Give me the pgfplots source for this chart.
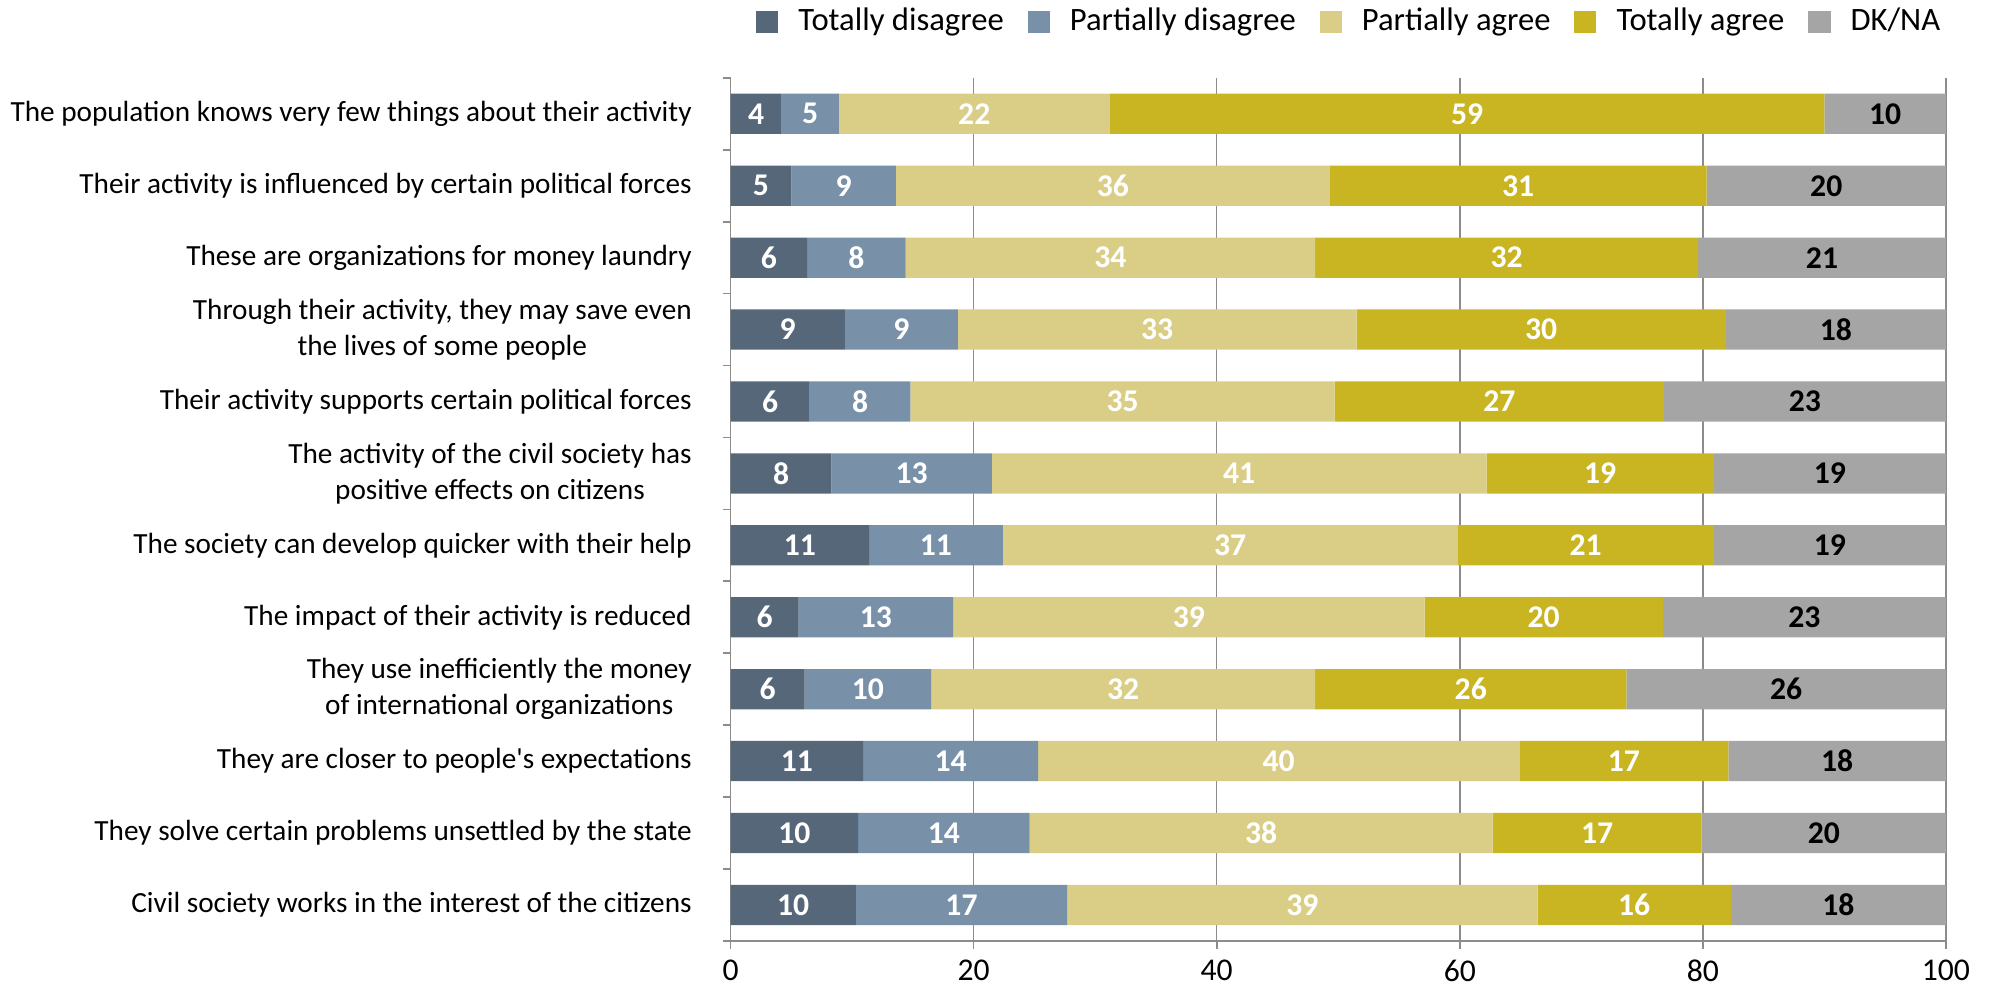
\documentclass[border=0pt]{standalone}
\usepackage{pgfplots}
\usepackage{pgfplotstable}
\pgfplotsset{compat=1.18}
\usepackage{fontspec}
\setmainfont{Carlito}
\definecolor{cTD}{HTML}{566779}
\definecolor{cPD}{HTML}{7891A8}
\definecolor{cPA}{HTML}{DACE87}
\definecolor{cTA}{HTML}{C9B521}
\definecolor{cDK}{HTML}{A5A5A5}
\definecolor{axgray}{HTML}{8C8C8C}
\pgfplotstableread{
idx td pd pa ta dk ltd lpd lpa lta ldk
0 4.2 4.7 22.3 58.8 10.0 4 5 22 59 10
1 5.0 8.6 35.7 31.0 19.7 5 9 36 31 20
2 6.3 8.1 33.7 31.5 20.4 6 8 34 32 21
3 9.4 9.3 32.8 30.4 18.1 9 9 33 30 18
4 6.5 8.3 34.9 27.1 23.2 6 8 35 27 23
5 8.3 13.2 40.7 18.7 19.1 8 13 41 19 19
6 11.4 11.0 37.4 21.1 19.1 11 11 37 21 19
7 5.6 12.7 38.8 19.6 23.3 6 13 39 20 23
8 6.1 10.4 31.6 25.6 26.3 6 10 32 26 26
9 10.9 14.4 39.6 17.2 17.9 11 14 40 17 18
10 10.5 14.1 38.1 17.2 20.1 10 14 38 17 20
11 10.3 17.4 38.7 15.9 17.7 10 17 39 16 18
}\data
\begin{document}
\fontsize{15.8}{19}\selectfont
\begin{tikzpicture}
\begin{axis}[
  xbar stacked,
  scale only axis,
  width=607pt, height=431pt,
  xmin=0, xmax=100, ymin=-0.5, ymax=11.5,
  y dir=reverse,
  bar width=0.56,
  axis x line*=bottom, axis y line*=left,
  axis line style={draw=axgray, line width=0.8pt},
  xtick={0,20,...,100},
  xmajorgrids,
  grid style={draw=axgray, line width=0.7pt},
  ytick={0,...,11},
  yticklabels={
    {The population knows very few things about their activity},
    {Their activity is influenced by certain political forces},
    {These are organizations for money laundry},
    {Through their activity, they may save even\\the lives of some people},
    {Their activity supports certain political forces},
    {The activity of the civil society has\\positive effects on citizens},
    {The society can develop quicker with their help},
    {The impact of their activity is reduced},
    {They use inefficiently the money\\of international organizations},
    {They are closer to people\textquotesingle s expectations},
    {They solve certain problems unsettled by the state},
    {Civil society works in the interest of the citizens}},
  yticklabel style={align=center, xshift=-10pt, font=\fontsize{14.6}{18}\selectfont},
  xticklabel style={font=\fontsize{15.8}{19}\selectfont},
  minor ytick={-0.5,0.5,...,11.5},
  major y tick style={draw=none},
  minor y tick style={draw=axgray, line width=0.8pt},
  x tick style={draw=axgray, line width=0.8pt},
  tick align=outside,
  major tick length=4pt, minor tick length=4pt,
  /pgf/number format/assume math mode=true,
  point meta=explicit symbolic,
  nodes near coords,
  nodes near coords style={font=\fontsize{15.8}{19}\selectfont\bfseries, text=white},
  legend style={draw=none, at={(0.5,1)}, anchor=south, yshift=17pt, xshift=6pt,
    legend columns=5, font=\fontsize{16.3}{19}\selectfont,
    /tikz/every odd column/.append style={column sep=8pt},
    /tikz/every even column/.append style={column sep=10pt}},
  legend image code/.code={\fill[#1] (0pt,-5.5pt) rectangle (11pt,5.5pt);},
]
\addplot[fill=cTD, draw=none] table[x=td, y=idx, meta=ltd] {\data};
\addplot[fill=cPD, draw=none] table[x=pd, y=idx, meta=lpd] {\data};
\addplot[fill=cPA, draw=none] table[x=pa, y=idx, meta=lpa] {\data};
\addplot[fill=cTA, draw=none] table[x=ta, y=idx, meta=lta] {\data};
\addplot[fill=cDK, draw=none, nodes near coords style={text=black}] table[x=dk, y=idx, meta=ldk] {\data};
\legend{Totally disagree, Partially disagree, Partially agree, Totally agree, DK/NA}
\end{axis}
\path (current axis.south east) ++(22pt,0pt);
\end{tikzpicture}
\end{document}
